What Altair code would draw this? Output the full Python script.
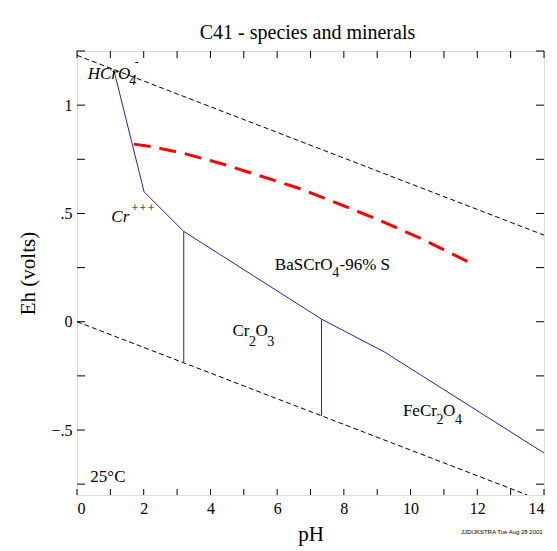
import altair as alt
import pandas as pd

# ---------------- data ----------------
ph_upper = [0.0, 14.0]
eh_upper = [1.23, 0.40]
ph_lower = [0.0, 13.5]
eh_lower = [0.0, -0.80]

ph_boundary = [1.10, 2.01, 3.20, 7.33, 9.22, 14.0]
eh_boundary = [1.165, 0.600, 0.417, 0.012, -0.140, -0.606]
ph_vert1 = [3.20, 3.20]
eh_vert1 = [0.417, -0.186]
ph_vert2 = [7.33, 7.33]
eh_vert2 = [0.012, -0.434]

ph_red = [1.70, 2.23, 3.28, 4.37, 5.48, 6.58, 7.49, 8.99, 10.36, 11.80]
eh_red = [0.820, 0.809, 0.774, 0.728, 0.674, 0.620, 0.566, 0.474, 0.381, 0.271]

x_ticks = list(range(0, 15))
x_labels = [0, 2, 4, 6, 8, 10, 12, 14]
y_ticks = [-0.75, -0.5, -0.25, 0.0, 0.25, 0.5, 0.75, 1.0, 1.25]
y_labels = [-0.5, 0.0, 0.5, 1.0]

title_text = "C41 - species and minerals"

roman_text = ["BaSCrO", "-96% S", "Cr", "O", "FeCr", "O", "25°C"]
roman_ph = [5.93, 7.87, 4.66, 5.35, 9.77, 10.97, 0.40]
roman_eh = [0.239, 0.239, -0.066, -0.066, -0.437, -0.437, -0.741]

roman_sub_text = ["4", "2", "3", "2", "4"]
roman_sub_ph = [7.65, 5.16, 5.70, 10.78, 11.33]
roman_sub_eh = [0.208, -0.110, -0.110, -0.470, -0.470]

italic_text = ["HCrO", "Cr"]
italic_ph = [0.32, 1.03]
italic_eh = [1.119, 0.459]

italic_sub_text = ["4"]
italic_sub_ph = [1.57]
italic_sub_eh = [1.092]

italic_sup_text = ["-", "+++"]
italic_sup_ph = [1.73, 1.61]
italic_sup_eh = [1.18, 0.505]

footer_text = ["JJDIJKSTRA Tue Aug 28 2001"]
footer_ph = [13.96]
footer_eh = [-0.98]

# ---------------- helpers ----------------
W, H = 467, 444
SERIF = "Liberation Serif"
xs = alt.Scale(domain=[0, 14], nice=False, zero=False)
ys = alt.Scale(domain=[-0.8, 1.25], nice=False, zero=False)


def X(**kw):
    return alt.X("ph:Q", scale=xs, **kw)


def Y(**kw):
    return alt.Y("eh:Q", scale=ys, **kw)


def line_df(groups):
    rows = []
    for name, phs, ehs in groups:
        for i, (p, e) in enumerate(zip(phs, ehs)):
            rows.append({"ph": p, "eh": e, "seg": name, "order": i})
    return pd.DataFrame(rows)


def text_df(texts, phs, ehs):
    return pd.DataFrame({"t": texts, "ph": phs, "eh": ehs})


# axes layer (invisible points just to carry axes)
axis_df = pd.DataFrame({"ph": [0, 14], "eh": [-0.8, 1.25]})
base = alt.Chart(axis_df).mark_point(opacity=0).encode(
    x=X(axis=alt.Axis(values=x_labels, ticks=False, tickSize=0, domain=False, grid=False,
                      labelFont=SERIF, labelFontSize=16, labelColor="black", labelPadding=5,
                      title="pH", titleFont=SERIF, titleFontSize=21, titleFontWeight="normal",
                      titleColor="black", titleBaseline="alphabetic", titleY=45)),
    y=Y(axis=alt.Axis(values=y_labels, ticks=False, tickSize=0, domain=False, grid=False,
                      labelFont=SERIF, labelFontSize=16, labelColor="black", labelPadding=5,
                      labelExpr="replace(format(datum.value, '.1~f'), '0.', '.')",
                      title="Eh (volts)", titleFont=SERIF, titleFontSize=21,
                      titleFontWeight="normal", titleColor="black",
                      titleBaseline="alphabetic", titleX=-43)),
)

water = alt.Chart(line_df([("up", ph_upper, eh_upper), ("low", ph_lower, eh_lower)])).mark_line(
    color="black", strokeWidth=1, strokeDash=[5, 3], clip=True
).encode(x=X(), y=Y(), detail="seg:N", order="order:Q")

blue = alt.Chart(line_df([("b", ph_boundary, eh_boundary), ("v1", ph_vert1, eh_vert1),
                          ("v2", ph_vert2, eh_vert2)])).mark_line(
    color="#2525a5", strokeWidth=1, clip=True
).encode(x=X(), y=Y(), detail="seg:N", order="order:Q")

red = alt.Chart(line_df([("r", ph_red, eh_red)])).mark_line(
    color="#ff0000", strokeWidth=3, strokeDash=[17, 9], strokeCap="butt"
).encode(x=X(), y=Y(), order="order:Q")

# tick marks (inward, on all four sides)
xt = pd.DataFrame({"ph": x_ticks})
yt = pd.DataFrame({"eh": y_ticks})
tick_bottom = alt.Chart(xt).mark_rule(color="black", strokeWidth=1).encode(
    x=X(), y=alt.value(H), y2=alt.value(H - 6))
tick_top = alt.Chart(xt).mark_rule(color="black", strokeWidth=1).encode(
    x=X(), y=alt.value(0), y2=alt.value(7))
tick_left = alt.Chart(yt).mark_rule(color="black", strokeWidth=1).encode(
    y=Y(), x=alt.value(0), x2=alt.value(8))
tick_right = alt.Chart(yt).mark_rule(color="black", strokeWidth=1).encode(
    y=Y(), x=alt.value(W), x2=alt.value(W - 8))


def texts(df, size, style="normal", font=SERIF, align="left"):
    return alt.Chart(df).mark_text(
        align=align, baseline="alphabetic", font=font, fontSize=size,
        fontStyle=style, color="black"
    ).encode(x=X(), y=Y(), text="t:N")


t1 = texts(text_df(roman_text, roman_ph, roman_eh), 17)
t2 = texts(text_df(roman_sub_text, roman_sub_ph, roman_sub_eh), 14)
t3 = texts(text_df(italic_text, italic_ph, italic_eh), 17, "italic")
t4 = texts(text_df(italic_sub_text, italic_sub_ph, italic_sub_eh), 14, "italic")
t5 = texts(text_df(italic_sup_text, italic_sup_ph, italic_sup_eh), 12, "italic")
t6 = texts(text_df(footer_text, footer_ph, footer_eh), 6, font="Liberation Sans", align="right")

title = alt.Chart(pd.DataFrame({"t": [title_text]})).mark_text(
    align="center", baseline="alphabetic", font=SERIF, fontSize=20, color="black"
).encode(text="t:N", x=alt.value(W / 2 - 3), y=alt.value(-12))

chart = alt.layer(
    base, water, blue, red, tick_bottom, tick_top, tick_left, tick_right,
    t1, t2, t3, t4, t5, t6, title
).properties(
    width=W, height=H,
    autosize=alt.AutoSizeParams(type="none"),
    padding={"left": 77, "top": 51, "right": 13, "bottom": 56},
).configure_view(
    stroke="black", strokeWidth=1
).configure(background="white")

chart.save("out.html", embed_options={"renderer": "svg", "actions": False})
